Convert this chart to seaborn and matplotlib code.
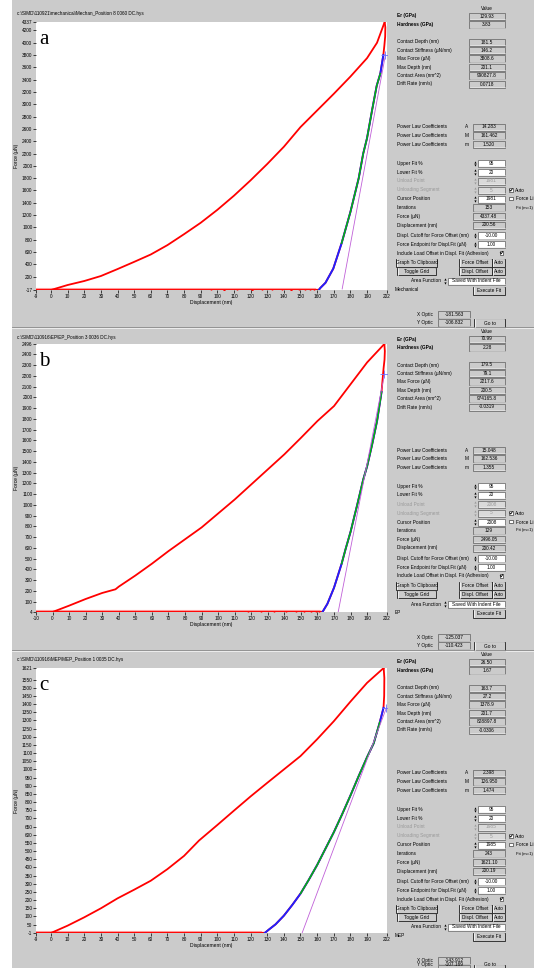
import matplotlib
matplotlib.use("Agg")
import matplotlib.pyplot as plt
from matplotlib.patches import Rectangle
import seaborn as sns

W, H = 534, 968
GRAY = "#cbcbcb"
SANS = ["Liberation Sans Narrow", "Liberation Sans", "DejaVu Sans"]
plt.rcParams["font.family"] = SANS

# ---------------- data: panel a (Mechanical) ----------------
load_x_a = [0, 10, 20, 30, 40, 50, 60, 70, 80, 90, 100, 110, 120, 130, 140, 150, 160, 170, 180, 190, 196, 200.6]
load_f_a = [-17, 64, 129, 210, 323, 440, 560, 712, 890, 1075, 1285, 1515, 1765, 2030, 2310, 2630, 2900, 3170, 3450, 3750, 4000, 4337]
unload_x_a = [200.6, 201.0, 200.9, 200.4, 199.8, 198.0, 195.8, 193.0, 190.0, 187.7, 185.0, 180.0, 174.7, 169.7, 165.0, 161.7, 161.0]
unload_f_a = [4337, 4250, 4100, 3950, 3800, 3500, 3300, 2900, 2450, 2200, 1800, 1250, 742, 330, 100, 10, -17]
noise_x_a = [96, 104, 112, 121, 127, 133, 139, 144, 149, 153, 156, 158]
noise_f_a = [-8, -9, -7, -9, -6, -8, -7, -9, -6, -5, -8, -6]

# ---------------- data: panel b (EP) ----------------
load_x_b = [0, 10, 20, 30, 38, 40, 50, 60, 70, 80, 90, 100, 110, 120, 130, 140, 150, 160, 170, 180, 190, 200.4]
load_f_b = [4, 63, 125, 181, 215, 240, 343, 453, 570, 680, 790, 920, 1050, 1190, 1330, 1470, 1623, 1780, 1919, 2122, 2325, 2496]
unload_x_b = [200.4, 200.7, 200.5, 200.0, 199.7, 198.7, 196.0, 193.0, 190.0, 187.6, 184.0, 180.0, 177.0, 174.6, 170.0, 166.0, 163.5, 163.0]
unload_f_b = [2496, 2430, 2350, 2280, 2231, 2050, 1780, 1560, 1360, 1233, 1000, 750, 590, 453, 230, 80, 16, 4]
noise_x_b = [118, 126, 134, 141, 147, 152, 156, 159, 161]
noise_f_b = [10, 12, 9, 11, 13, 10, 12, 11, 9]

# ---------------- data: panel c (MEP) ----------------
load_x_c = [0, 10, 20, 30, 40, 50, 60, 70, 80, 89, 100, 110, 120, 130, 140, 150, 160, 170, 180, 190, 200]
load_f_c = [-1, 44, 95, 150, 211, 264, 319, 390, 471, 565, 660, 748, 835, 918, 1000, 1082, 1185, 1295, 1415, 1530, 1621]
unload_x_c = [200.0, 200.4, 200.3, 199.9, 197.7, 194.0, 190.0, 185.0, 180.0, 175.0, 170.0, 165.0, 160.0, 155.0, 150.0, 145.0, 140.0, 135.0, 131.0, 128.5]
unload_f_c = [1621, 1560, 1450, 1377, 1290, 1160, 1075, 960, 840, 725, 615, 515, 415, 325, 240, 170, 105, 52, 20, -1]

row_labels = ["Contact Depth (nm)", "Contact Stiffness (\u00b5N/nm)", "Max Force (\u00b5N)",
              "Max Depth (nm)", "Contact Area (nm^2)", "Drift Rate (nm/s)"]

panels = [
    dict(off=0, top=22, bottom=290,
         title="c:\\SIMD\\110921\\mechanical\\Mechan_Position 8 0060 DC.hys",
         letter="a", name="Mechanical",
         xlim=(-9, 202), ylim=(-17, 4337),
         yticks=[-17] + list(range(200, 4201, 200)) + [4337],
         xticks=[-9] + list(range(0, 191, 10)) + [202],
         lx=load_x_a, lf=load_f_a, ux=unload_x_a, uf=unload_f_a,
         nx=noise_x_a, nf=noise_f_a,
         er="129.93", hard="3.83",
         vals=["181.5", "146.2", "3808.6", "201.1", "990827.8", "0.0718"],
         stiff=146.2, fmax=3808.6, hmax=201.1, green_lo=742,
         plc=["14.283", "161.462", "1.520"],
         unload_pt="1981", cursor="1981", iters="153", force="4337.48", disp="200.56",
         xo="-181.563", yo="-106.832"),
    dict(off=323, top=344, bottom=612,
         title="c:\\SIMD\\110916\\EP\\EP_Position 3 0036 DC.hys",
         letter="b", name="EP",
         xlim=(-10, 202), ylim=(4, 2496),
         yticks=[4] + list(range(100, 2401, 100)) + [2496],
         xticks=[-10] + list(range(0, 191, 10)) + [202],
         lx=load_x_b, lf=load_f_b, ux=unload_x_b, uf=unload_f_b,
         nx=noise_x_b, nf=noise_f_b,
         er="70.99", hard="2.28",
         vals=["179.5", "79.1", "2217.6", "200.5", "974165.8", "-0.0319"],
         stiff=79.1, fmax=2217.6, hmax=200.5, green_lo=453,
         plc=["15.048", "162.536", "1.355"],
         unload_pt="2008", cursor="2008", iters="129", force="2496.05", disp="200.42",
         xo="-125.037", yo="-110.423"),
    dict(off=646, top=668, bottom=933,
         title="c:\\SIMD\\110916\\MEP\\MEP_Position 1 0035 DC.hys",
         letter="c", name="MEP",
         xlim=(-9, 202), ylim=(-1, 1621),
         yticks=[-1] + list(range(50, 1551, 50)) + [1621],
         xticks=[-9] + list(range(0, 191, 10)) + [202],
         lx=load_x_c, lf=load_f_c, ux=unload_x_c, uf=unload_f_c,
         nx=[], nf=[],
         er="26.50", hard="1.67",
         vals=["163.7", "27.2", "1378.9", "201.7", "828897.8", "-0.0306"],
         stiff=27.2, fmax=1378.9, hmax=201.7, green_lo=240,
         plc=["2.398", "126.950", "1.474"],
         unload_pt="1985", cursor="1985", iters="243", force="1621.10", disp="200.19",
         xo="-143.912", yo="-107.169"),
]

fig = plt.figure(figsize=(W / 100, H / 100), dpi=100)
fig.patch.set_facecolor("white")

# background layer in pixel coordinates (y grows downward)
bg = fig.add_axes([0, 0, 1, 1], zorder=0)
bg.set_xlim(0, W)
bg.set_ylim(H, 0)
bg.axis("off")
bg.add_patch(Rectangle((12, 0), W - 12, H, facecolor=GRAY, edgecolor="none"))
for ysep in (327, 650):
    bg.plot([12, W], [ysep, ysep], color="#8a8a8a", lw=0.6)
    bg.plot([12, W], [ysep + 1, ysep + 1], color="#f2f2f2", lw=0.6)

FS = 3.4


def txt(x, y, s, ha="left", color="black", bold=False, size=FS, **kw):
    bg.text(x, y, s, ha=ha, va="center", fontsize=size, color=color,
            fontweight="bold" if bold else "normal", **kw)


def field(x0, x1, y, value, face=GRAY, color="black", h=7.0, ty=None):
    bg.add_patch(Rectangle((x0, y - h / 2), x1 - x0, h, facecolor=face,
                           edgecolor="#5e5e5e", lw=0.5))
    bg.plot([x0 + 0.6, x1 - 0.4], [y + h / 2 - 0.6, y + h / 2 - 0.6], color="#eeeeee", lw=0.4)
    txt((x0 + x1) / 2, y if ty is None else ty, value, ha="center", color=color)


def spinner(x, y, enabled=True):
    c = "black" if enabled else "#9a9a9a"
    bg.plot([x], [y - 1.6], marker="^", ms=1.6, color=c, mew=0)
    bg.plot([x], [y + 1.6], marker="v", ms=1.6, color=c, mew=0)


def button(x0, x1, y0, y1, label, ty=None):
    bg.add_patch(Rectangle((x0, y0), x1 - x0, y1 - y0, facecolor=GRAY,
                           edgecolor="#1e1e1e", lw=0.6))
    bg.plot([x0 + 0.5, x1 - 0.7], [y0 + 0.6, y0 + 0.6], color="white", lw=0.5)
    bg.plot([x0 + 0.6, x0 + 0.6], [y0 + 0.6, y1 - 0.7], color="white", lw=0.5)
    txt((x0 + x1) / 2, (y0 + y1) / 2 if ty is None else ty, label, ha="center")


def checkbox(x, y, checked):
    bg.add_patch(Rectangle((x - 1.9, y - 1.9), 3.8, 3.8, facecolor="white",
                           edgecolor="#404040", lw=0.5))
    if checked:
        bg.plot([x - 1.2, x - 0.3, x + 1.3], [y - 0.1, y + 1.1, y - 1.2], color="black", lw=0.6)


for p in panels:
    o = p["off"]
    txt(17, 14 + o, p["title"], size=3.3)

    # ---- right-hand property panel ----
    txt(487, 8.5 + o, "Value", ha="center")
    txt(397, 16 + o, "Er (GPa)", bold=True)
    field(469, 505, 16 + o, p["er"])
    txt(397, 24.7 + o, "Hardness (GPa)", bold=True)
    field(469, 505, 24.7 + o, p["hard"])
    for i, (lab, v) in enumerate(zip(row_labels, p["vals"])):
        yy = 42 + 8.4 * i + o
        txt(397, yy, lab)
        field(469, 505, yy, v)

    for i, (let, v) in enumerate(zip(["A", "M", "m"], p["plc"])):
        yy = 127 + 8.6 * i + o
        txt(397, yy, "Power Law Coefficients")
        txt(466.5, yy, let, ha="center")
        field(473, 505, yy, v)

    txt(397, 163.3 + o, "Upper Fit %")
    spinner(474.5, 163.3 + o)
    field(478, 505, 163.3 + o, "95", face="white")
    txt(397, 172 + o, "Lower Fit %")
    spinner(474.5, 172 + o)
    field(478, 505, 172 + o, "20", face="white")
    txt(397, 181 + o, "Unload Point", color="#9a9a9a")
    spinner(474.5, 181 + o, enabled=False)
    field(478, 505, 181 + o, p["unload_pt"], face="#dadada", color="#9a9a9a")
    txt(397, 190 + o, "Unloading Segment", color="#9a9a9a")
    spinner(474.5, 190 + o, enabled=False)
    field(478, 505, 190 + o, "5", face="#dadada", color="#9a9a9a")
    checkbox(511, 190 + o, True)
    txt(515, 190.5 + o, "Auto")
    txt(397, 199 + o, "Cursor Position")
    spinner(474.5, 199 + o)
    field(478, 505, 199 + o, p["cursor"], face="white")
    checkbox(511, 198.5 + o, False)
    txt(515.5, 199 + o, "Force Li")
    txt(516.3, 207.5 + o, "Fit (m=1)", size=3.1)
    txt(397, 207.7 + o, "Iterations")
    field(473, 505, 207.7 + o, p["iters"])
    txt(397, 216.3 + o, "Force (\u00b5N)")
    field(473, 505, 216.3 + o, p["force"])
    txt(397, 225 + o, "Displacement (nm)")
    field(473, 505, 225 + o, p["disp"])
    txt(397, 235.7 + o, "Displ. Cutoff for Force Offset (nm)")
    spinner(474.5, 235.7 + o)
    field(478, 505, 235.7 + o, "-10.00", face="white")
    txt(397, 244.3 + o, "Force Endpoint for Displ.Fit (\u00b5N)")
    spinner(474.5, 244.3 + o)
    field(478, 505, 244.3 + o, "1.00", face="white")
    txt(397, 253 + o, "Include Load Offset in Displ. Fit (Adhesion)")
    checkbox(501.5, 252.7 + o, True)

    button(396, 437, 258.7 + o, 266.7 + o, "Graph To Clipboard")
    button(397, 436, 267.7 + o, 275.3 + o, "Toggle Grid")
    button(459, 491.5, 258.7 + o, 266.7 + o, "Force Offset")
    button(492, 505, 258.7 + o, 266.7 + o, "Auto")
    button(459, 491.5, 267.7 + o, 275.3 + o, "Displ. Offset")
    button(492, 505, 267.7 + o, 275.3 + o, "Auto")
    txt(441, 281 + o, "Area Function", ha="right")
    spinner(444.8, 281 + o)
    field(448, 505, 281 + o, "Saved With Indent File", face="white")
    txt(394.5, 289.5 + o, p["name"])
    button(473, 505, 286.7 + o, 294.5 + o, "Execute Fit")

    # optic position rows; the lowest row's text is kept inside the canvas
    y_xo = 314.8 + o
    y_yo = 322.8 + o
    y_yo_txt = min(y_yo, 964.8)
    txt(433, y_xo, "X Optic", ha="right")
    field(438, 470, y_xo, p["xo"])
    txt(433, y_yo_txt, "Y Optic", ha="right")
    field(438, 470, y_yo, p["yo"], ty=y_yo_txt)
    button(474, 505, 318.7 + o, 327.5 + o, "Go to", ty=min(323.1 + o, 964.8))

    # ---- load-displacement plot ----
    top, bot = p["top"], p["bottom"]
    ax = fig.add_axes([36 / W, 1 - bot / H, (387 - 36) / W, (bot - top) / H], zorder=2)
    ax.set_facecolor("white")
    for s in ax.spines.values():
        s.set_visible(False)
    ax.set_xlim(*p["xlim"])
    ax.set_ylim(*p["ylim"])
    y0 = p["ylim"][0]

    # approach baseline, retract scatter
    sns.lineplot(x=[p["xlim"][0], p["ux"][-1]], y=[y0, y0], ax=ax, color="#ff0000",
                 lw=1.6, estimator=None, sort=False, legend=False)
    sns.lineplot(x=[p["xlim"][0], p["ux"][-1] - 2], y=[y0 + (p["ylim"][1] - y0) * 0.006] * 2,
                 ax=ax, color="#ff9a9a", lw=0.8, estimator=None, sort=False, legend=False)
    if p["nx"]:
        sns.scatterplot(x=p["nx"], y=p["nf"], ax=ax, color="#ff0000", s=2.5,
                        linewidth=0, legend=False)

    # loading and unloading segments
    sns.lineplot(x=p["lx"], y=p["lf"], ax=ax, color="#ff0000", lw=1.3,
                 estimator=None, sort=False, legend=False)
    sns.lineplot(x=p["ux"], y=p["uf"], ax=ax, color="#ff0000", lw=1.3,
                 estimator=None, sort=False, legend=False)
    # power-law fit (blue) over unloading
    fit_x = [x for x, f in zip(p["ux"], p["uf"]) if f <= p["fmax"] + 1]
    fit_f = [f for f in p["uf"] if f <= p["fmax"] + 1]
    sns.lineplot(x=fit_x, y=fit_f, ax=ax, color="#2020ff", lw=1.4,
                 estimator=None, sort=False, legend=False)
    # fitted range (green)
    gx = [x for x, f in zip(p["ux"], p["uf"]) if p["green_lo"] <= f <= p["fmax"] * 0.96]
    gf = [f for f in p["uf"] if p["green_lo"] <= f <= p["fmax"] * 0.96]
    sns.lineplot(x=gx, y=gf, ax=ax, color="#00c000", lw=1.0,
                 estimator=None, sort=False, legend=False)
    # contact stiffness tangent (violet)
    h0 = p["hmax"] - p["fmax"] / p["stiff"]
    sns.lineplot(x=[h0, p["hmax"]], y=[0, p["fmax"]], ax=ax, color="#c060d8", lw=0.6,
                 estimator=None, sort=False, legend=False)
    ax.plot([p["hmax"] - 0.6], [p["fmax"]], marker="+", ms=6, mew=0.6, color="#7070ff", zorder=5)

    ax.set_yticks(p["yticks"])
    ax.set_yticklabels([str(t) for t in p["yticks"]])
    ax.set_xticks(p["xticks"])
    ax.set_xticklabels([str(t) for t in p["xticks"]])
    ax.tick_params(axis="both", length=2, width=0.5, pad=0.6, labelsize=3.4, colors="black")
    ax.set_xlabel("Displacement (nm)", fontsize=3.6, labelpad=1.2)
    ax.set_ylabel("")
    txt(16.5, (top + bot) / 2, "Force (\u00b5N)", ha="center", rotation=90, size=3.6)

    ax.text(0.008, 1 - 18 / (bot - top), p["letter"], transform=ax.transAxes,
            ha="left", va="center", fontsize=15, family=["Liberation Serif", "DejaVu Serif"])

fig.savefig("out.png", dpi=100)
